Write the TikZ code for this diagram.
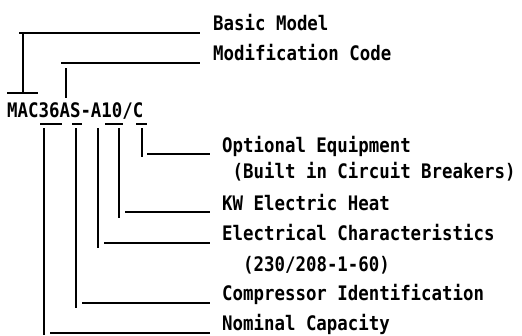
\documentclass[tikz,border=0pt]{standalone}
\usepackage{fontspec}
\newfontfamily\codefont{DejaVu Sans Mono}[FakeStretch=0.87]
\begin{document}
\begin{tikzpicture}[x=1pt,y=-1pt,
  lbl/.style={anchor=base west,inner sep=0pt,font=\codefont\bfseries\fontsize{20}{22}\selectfont},
  ln/.style={line width=1.6pt},
  thin/.style={line width=1.3pt}]
\useasboundingbox (0,0) rectangle (522,335);
% labels
\node[lbl] (basic) at (213,30) {Basic Model};
\node[lbl] (modif) at (213,60) {Modification Code};
\node[lbl] (code)  at (7,117) {MAC36AS-A10/C};
\node[lbl] (opt)   at (222,152) {Optional Equipment};
\node[lbl] (optb)  at (232.5,178) {(Built in Circuit Breakers)};
\node[lbl] (kw)    at (222,210) {KW Electric Heat};
\node[lbl] (elec)  at (222,240) {Electrical Characteristics};
\node[lbl] (elecb) at (243,271) {(230/208-1-60)};
\node[lbl] (comp)  at (222,300) {Compressor Identification};
\node[lbl] (nom)   at (222,330) {Nominal Capacity};
% top brackets
\coordinate (bL) at (19,33);  \coordinate (bR) at (200,33);
\coordinate (bT) at (23,33);  \coordinate (bB) at (23,93);
\coordinate (barL) at (7,93); \coordinate (barR) at (38,93);
\draw[thin] (bL) -- (bR);
\draw[ln] (bT) -- (bB);
\draw[ln] (barL) -- (barR);
\coordinate (mL) at (61,63);  \coordinate (mR) at (200,63);
\coordinate (mT) at (66,68);  \coordinate (mB) at (66,98);
\draw[thin] (mL) -- (mR);
\draw[ln] (mT) -- (mB);
% underlines
\coordinate (u1a) at (40,124);  \coordinate (u1b) at (62,124);
\coordinate (u2a) at (72,124);  \coordinate (u2b) at (82,124);
\coordinate (u3a) at (105,124); \coordinate (u3b) at (123,124);
\coordinate (u4a) at (136,124); \coordinate (u4b) at (147,124);
\draw[thin] (u1a) -- (u1b);
\draw[thin] (u2a) -- (u2b);
\draw[thin] (u3a) -- (u3b);
\draw[thin] (u4a) -- (u4b);
% lower leaders
\coordinate (cT) at (142,128); \coordinate (cB) at (142,157);
\coordinate (oL) at (147,154); \coordinate (oR) at (210,154);
\draw[ln] (cT) -- (cB); \draw[thin] (oL) -- (oR);
\coordinate (zT) at (119,128); \coordinate (zB) at (119,218);
\coordinate (kL) at (125,212); \coordinate (kR) at (210,212);
\draw[ln] (zT) -- (zB); \draw[thin] (kL) -- (kR);
\coordinate (aT) at (98,128);  \coordinate (aB) at (98,248);
\coordinate (eL) at (104,243); \coordinate (eR) at (210,243);
\draw[ln] (aT) -- (aB); \draw[thin] (eL) -- (eR);
\coordinate (sT) at (76,128);  \coordinate (sB) at (76,308);
\coordinate (pL) at (82,303);  \coordinate (pR) at (210,303);
\draw[ln] (sT) -- (sB); \draw[thin] (pL) -- (pR);
\coordinate (tT) at (44,128);  \coordinate (tB) at (44,335);
\coordinate (nL) at (50,333);  \coordinate (nR) at (210,333);
\draw[ln] (tT) -- (tB); \draw[thin] (nL) -- (nR);
\end{tikzpicture}
\end{document}
